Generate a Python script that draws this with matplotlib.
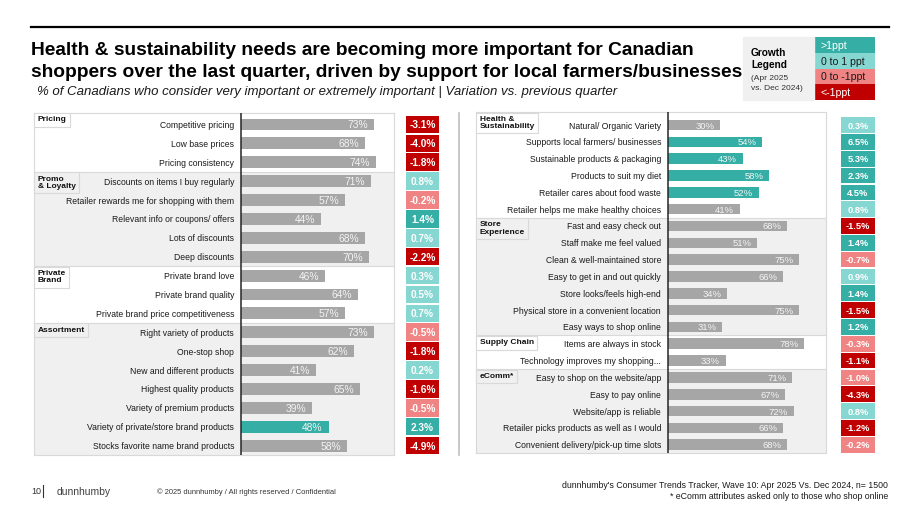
import matplotlib
matplotlib.use('Agg')
import matplotlib.pyplot as plt
from matplotlib.patches import Rectangle
from matplotlib.lines import Line2D

plt.rcParams['font.family'] = ['Liberation Sans', 'DejaVu Sans']

W, H = 920, 518

# ---- data ----
left_labels = ["Competitive pricing", "Low base prices", "Pricing consistency",
               "Discounts on items I buy regularly", "Retailer rewards me for shopping with them",
               "Relevant info or coupons/ offers", "Lots of discounts", "Deep discounts",
               "Private brand love", "Private brand quality", "Private brand price competitiveness",
               "Right variety of products", "One-stop shop", "New and different products",
               "Highest quality products", "Variety of premium products",
               "Variety of private/store brand products", "Stocks favorite name brand products"]
left_values = [73, 68, 74, 71, 57, 44, 68, 70, 46, 64, 57, 73, 62, 41, 65, 39, 48, 58]
left_growth = [-3.1, -4.0, -1.8, 0.8, -0.2, 1.4, 0.7, -2.2, 0.3, 0.5, 0.7, -0.5, -1.8, 0.2, -1.6, -0.5, 2.3, -4.9]
left_highlight = [16]
left_sections = ["Pricing", "Promo\n& Loyalty", "Private\nBrand", "Assortment"]
left_sizes = [3, 5, 3, 7]

right_labels = ["Natural/ Organic Variety", "Supports local farmers/ businesses",
                "Sustainable products & packaging", "Products to suit my diet",
                "Retailer cares about food waste", "Retailer helps me make healthy choices",
                "Fast and easy check out", "Staff make me feel valued", "Clean & well-maintained store",
                "Easy to get in and out quickly", "Store looks/feels high-end",
                "Physical store in a convenient location", "Easy ways to shop online",
                "Items are always in stock", "Technology improves my shopping...",
                "Easy to shop on the website/app", "Easy to pay online", "Website/app is reliable",
                "Retailer picks products as well as I would", "Convenient delivery/pick-up time slots"]
right_values = [30, 54, 43, 58, 52, 41, 68, 51, 75, 66, 34, 75, 31, 78, 33, 71, 67, 72, 66, 68]
right_growth = [0.3, 6.5, 5.3, 2.3, 4.5, 0.8, -1.5, 1.4, -0.7, 0.9, 1.4, -1.5, 1.2, -0.3, -1.1, -1.0, -4.3, 0.8, -1.2, -0.2]
right_highlight = [1, 2, 3, 4]
right_sections = ["Health &\nSustainability", "Store\nExperience", "Supply Chain", "eComm*"]
right_sizes = [6, 7, 2, 5]

legend_labels = [">1ppt", "0 to 1 ppt", "0 to -1ppt", "<-1ppt"]

# ---- colours ----
TEAL = '#35AFA6'
LTEAL = '#86D7D1'
SALMON = '#F08484'
RED = '#C00000'
BAR_GRAY = '#A6A6A6'
SEC_GRAY = '#F0F0F0'
LINE = '#D9D9D9'
legend_colors = [TEAL, LTEAL, SALMON, RED]
legend_text_colors = ['white', '#1a1a1a', '#1a1a1a', 'white']


def growth_color(g):
    if g > 1:
        return TEAL
    if g >= 0:
        return LTEAL
    if g >= -1:
        return SALMON
    return RED


def fy(y):
    return 1 - y / H


fig = plt.figure(figsize=(9.2, 5.18), dpi=100)


def px_axes(x0, y0, x1, y1):
    return fig.add_axes([x0 / W, 1 - y1 / H, (x1 - x0) / W, (y1 - y0) / H])


def panel(box, zero_x, px_pct, ylim, labels, values, growth, highlight,
          sec_names, sec_sizes, gbox, val_fs, g_fs):
    x0, y0, x1, y1 = box
    ax = px_axes(x0, y0, x1, y1)
    ax.set_xlim((x0 - zero_x) / px_pct, (x1 - zero_x) / px_pct)
    ax.set_ylim(*ylim)
    ys = list(range(len(labels)))

    # section backgrounds + label boxes
    start = 0
    for k, (name, size) in enumerate(zip(sec_names, sec_sizes)):
        bg = 'white' if k % 2 == 0 else SEC_GRAY
        top = ylim[1] if k == 0 else start - 0.5
        bot = ylim[0] if k == len(sec_names) - 1 else start + size - 0.5
        ax.axhspan(top, bot, color=bg, lw=0, zorder=0)
        if k > 0:
            ax.axhline(top, color=LINE, lw=0.8, zorder=1)
        ax.annotate(name, xy=(0, top), xycoords=('axes fraction', 'data'),
                    xytext=(2.6, -2.8), textcoords='offset points', ha='left', va='top',
                    fontsize=6, fontweight='bold', linespacing=1.05, color='#111111',
                    bbox=dict(boxstyle='square,pad=0.4', fc=bg, ec=LINE, lw=0.8), zorder=5)
        start += size

    colors = [TEAL if i in highlight else BAR_GRAY for i in ys]
    ax.barh(ys, values, height=0.63, color=colors, zorder=2)
    for y, v, lab in zip(ys, values, labels):
        ax.annotate(f'{v}%', xy=(v, y), xytext=(-4.3, 0), textcoords='offset points',
                    ha='right', va='center_baseline', color='#F4F4F4', fontsize=val_fs, zorder=3)
        ax.annotate(lab, xy=(0, y), xytext=(-5, 0), textcoords='offset points',
                    ha='right', va='center_baseline', color='#1a1a1a', fontsize=6.2, zorder=3)
    ax.axvline(0, color='#262626', lw=1.1, zorder=4)
    for s in ax.spines.values():
        s.set_color(LINE)
        s.set_linewidth(0.8)
    ax.set_xticks([])
    ax.set_yticks([])

    gx = px_axes(gbox[0], y0, gbox[1], y1)
    gx.set_xlim(0, 1)
    gx.set_ylim(*ylim)
    gx.axis('off')
    gx.barh(ys, 1, height=0.93, color=[growth_color(g) for g in growth])
    for y, g in zip(ys, growth):
        gx.text(0.5, y, f'{g:.1f}%', ha='center', va='center_baseline', color='white',
                fontweight='bold', fontsize=g_fs)


panel((34, 112.5, 394.5, 455), 241, 1.826, (17.5, -0.635), left_labels, left_values,
      left_growth, left_highlight, left_sections, left_sizes, (405.7, 439.3), 7.4, 7.3)
panel((476, 112, 826, 453), 668, 1.75, (19.49, -0.774), right_labels, right_values,
      right_growth, right_highlight, right_sections, right_sizes, (841, 875), 6.8, 6.7)

# divider between panels
fig.add_artist(Line2D([459.3 / W] * 2, [fy(112.7), fy(455)], color='#BFBFBF', lw=1.2))

# top rule and titles
fig.add_artist(Line2D([31 / W, 889 / W], [fy(26.7)] * 2, color='black', lw=1.6))
fig.text(31 / W, fy(55), "Health & sustainability needs are becoming more important for Canadian",
         fontsize=13.75, fontweight='bold', va='baseline', color='black')
fig.text(31 / W, fy(77), "shoppers over the last quarter, driven by support for local farmers/businesses",
         fontsize=13.75, fontweight='bold', va='baseline', color='black')
fig.text(37 / W, fy(95), "% of Canadians who consider very important or extremely important | "
         "Variation vs. previous quarter", fontsize=9.5, style='italic', va='baseline', color='#1a1a1a')

# growth legend
fig.patches.append(Rectangle((743 / W, fy(100)), (814 - 743) / W, (100 - 37.3) / H,
                             transform=fig.transFigure, color=SEC_GRAY, zorder=0))
fig.text(751 / W, fy(52.5), "Growth", fontsize=7.3, fontweight='bold', va='center_baseline')
fig.text(751 / W, fy(64.3), "Legend", fontsize=7.3, fontweight='bold', va='center_baseline')
fig.text(751 / W, fy(77.3), "(Apr 2025", fontsize=6.0, va='center_baseline', color='#333333')
fig.text(751 / W, fy(87.5), "vs. Dec 2024)", fontsize=6.0, va='center_baseline', color='#333333')
lg = px_axes(814, 37.3, 875, 100)
lg.barh(range(4), 1, height=1.0, color=legend_colors)
lg.set_xlim(0, 1)
lg.set_ylim(3.5, -0.5)
lg.axis('off')
for i, (t, c) in enumerate(zip(legend_labels, legend_text_colors)):
    lg.text(0.11, i, t, va='center_baseline', fontsize=7.6, color=c)

# footer
fig.text(31 / W, fy(491), "10", fontsize=6.5, va='center_baseline', color='#333333')
fig.add_artist(Line2D([42.7 / W] * 2, [fy(485), fy(497)], color='#333333', lw=0.8))
fig.text(56.5 / W, fy(491), "dunnhumby", fontsize=7.5, va='center_baseline', color='#404040')
fig.text(156.7 / W, fy(491), "\u00a9 2025 dunnhumby / All rights reserved / Confidential",
         fontsize=5.4, va='center_baseline', color='#333333')
fig.text(888 / W, fy(485), "dunnhumby's Consumer Trends Tracker, Wave 10: Apr 2025 Vs. Dec 2024, n= 1500",
         fontsize=6.3, ha='right', va='center_baseline', color='#1a1a1a')
fig.text(888 / W, fy(495.5), "* eComm attributes asked only to those who shop online",
         fontsize=6.3, ha='right', va='center_baseline', color='#1a1a1a')

fig.savefig('out.png', dpi=100)
